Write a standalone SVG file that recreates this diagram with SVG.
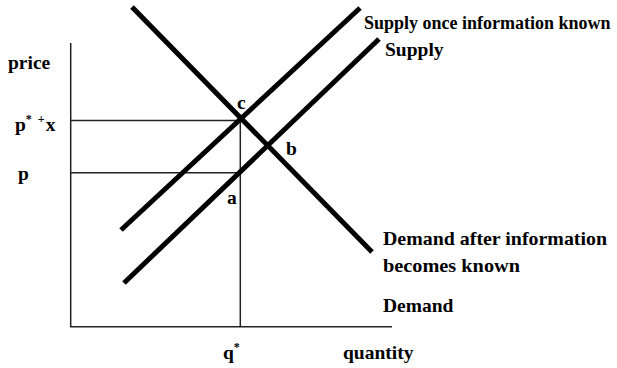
<svg xmlns="http://www.w3.org/2000/svg" width="617" height="368" viewBox="0 0 617 368">
<style>
.t{font-family:"Liberation Serif","Times New Roman",serif;font-weight:bold;font-size:19.5px;fill:#000}
.sm{font-size:18px}
.sup{font-size:12px}
.thin{stroke:#222;stroke-width:1.5;fill:none}
.thick{stroke:#000;stroke-width:5;fill:none}
</style>
<rect width="617" height="368" fill="#fff"/>
<g id="axes">
<line class="thin" x1="70.7" y1="43" x2="70.7" y2="327"/>
<line class="thin" x1="70" y1="326.7" x2="392" y2="326.7"/>
<line class="thin" x1="70" y1="120.5" x2="240" y2="120.5"/>
<line class="thin" x1="70" y1="172.7" x2="240" y2="172.7"/>
<line class="thin" x1="240.3" y1="120" x2="240.3" y2="327"/>
</g>
<g id="curves">
<line id="demand-after" class="thick" x1="132" y1="7" x2="372" y2="252"/>
<line id="supply-once" class="thick" x1="121" y1="230" x2="360" y2="8"/>
<line id="supply" class="thick" x1="124" y1="283" x2="379" y2="39"/>
</g>
<g id="labels">
<text class="t" x="8" y="69">price</text>
<text class="t" x="15" y="131">p<tspan class="sup" dy="-8">*</tspan><tspan class="sup" dx="6">+</tspan><tspan dy="8" dx="1">x</tspan></text>
<text class="t" x="18" y="180">p</text>
<text class="t" x="237" y="109">c</text>
<text class="t" x="286" y="155">b</text>
<text class="t" x="227" y="204">a</text>
<text class="t sm" x="364" y="29">Supply once information known</text>
<text class="t" x="385" y="56">Supply</text>
<text class="t" x="383" y="245" textLength="224" lengthAdjust="spacingAndGlyphs">Demand after information</text>
<text class="t" x="383" y="272" textLength="137" lengthAdjust="spacingAndGlyphs">becomes known</text>
<text class="t" x="383" y="312">Demand</text>
<text class="t" x="223" y="359">q<tspan class="sup" dy="-8">*</tspan></text>
<text class="t" x="343" y="359">quantity</text>
</g>
</svg>
